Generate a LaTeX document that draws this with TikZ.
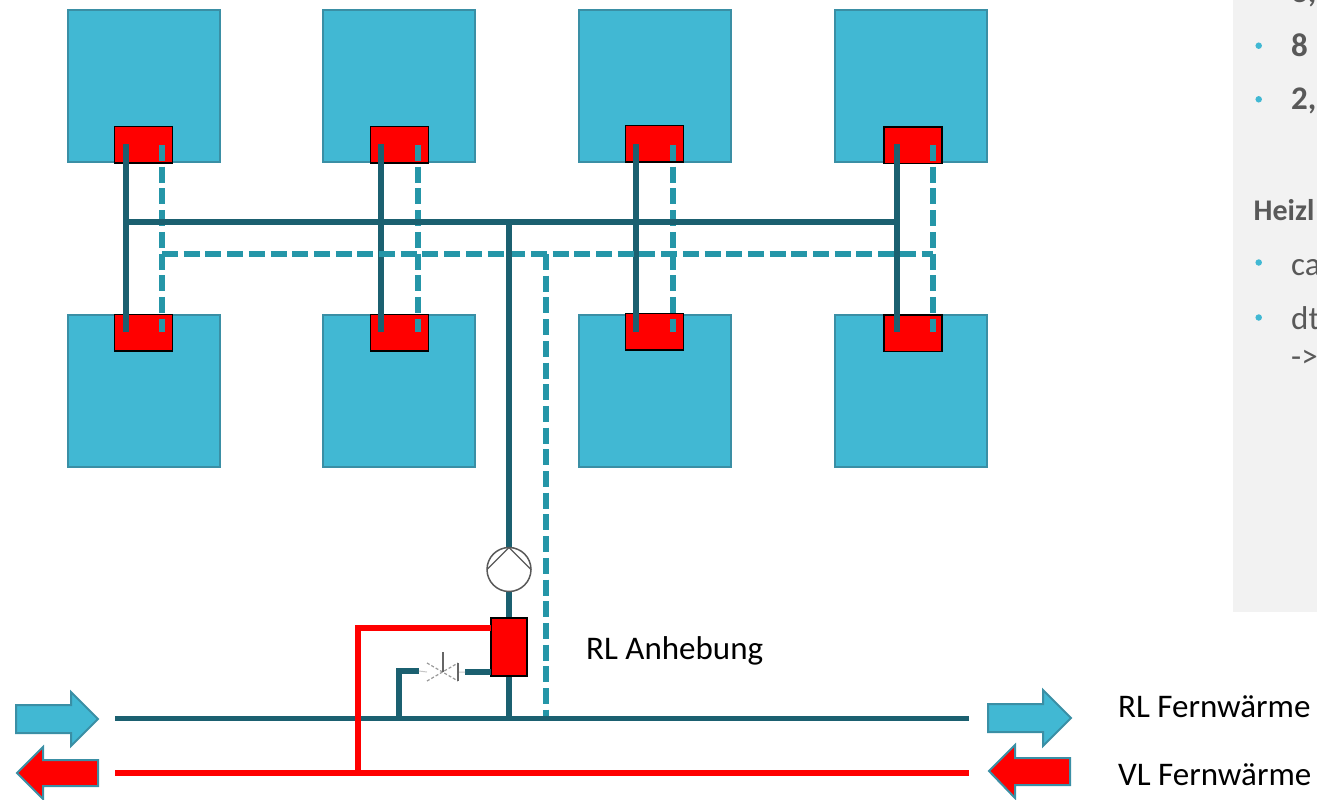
\documentclass[tikz,border=0pt]{standalone}
\usepackage{fontspec}
\setmainfont{Carlito}
\definecolor{roomfill}{HTML}{41B8D3}
\definecolor{roomedge}{HTML}{3A8FA5}
\definecolor{pipedark}{HTML}{1B6070}
\definecolor{pipedash}{HTML}{2596A8}
\definecolor{hot}{HTML}{FF0000}
\definecolor{panel}{HTML}{F2F2F2}
\definecolor{paneltext}{HTML}{595959}
\tikzset{
  room/.style={draw=roomedge,fill=roomfill,line width=2pt,minimum size=152.5pt,inner sep=0pt,outer sep=0pt},
  exch/.style={draw=black,fill=hot,line width=1.5pt,minimum width=58pt,minimum height=36.5pt,inner sep=0pt,outer sep=0pt},
  solidpipe/.style={draw=pipedark,line width=5.5pt,line cap=butt},
  dashpipe/.style={draw=pipedash,line width=5.5pt,dash pattern=on 16pt off 5.7pt},
  hotpipe/.style={draw=hot,line width=5.5pt},
  arrowblue/.style={draw=roomedge,fill=roomfill,line width=2pt,miter limit=4},
  arrowred/.style={draw=roomedge,fill=hot,line width=2pt,miter limit=4},
  label/.style={inner sep=0pt,anchor=base west,font=\fontsize{33}{38}\selectfont,text=black},
  ptext/.style={inner sep=0pt,anchor=base west,font=\fontsize{33}{38}\selectfont,text=paneltext},
  pbold/.style={ptext,font=\fontsize{33}{38}\selectfont\bfseries},
  bullet/.style={circle,fill=roomfill,minimum size=6.5pt,inner sep=0pt},
}
\begin{document}
\begin{tikzpicture}[x=1pt,y=-1pt]
\useasboundingbox (0,0) rectangle (1317,800);
% side panel
\fill[panel] (1233,0) rectangle (1317,612);
\node[pbold] (t3) at (1291,3) {3,};
\node[bullet] (b1) at (1258.7,45.7) {};
\node[pbold] (t8) at (1291,57) {8};
\node[bullet] (b2) at (1258.7,99.3) {};
\node[pbold] (t2) at (1291,110) {2,};
\node[pbold,font=\fontsize{30}{34}\selectfont\bfseries] (theiz) at (1253.5,220) {Heizl};
\node[bullet] (b3) at (1258.7,262.5) {};
\node[ptext] (tca) at (1291,275) {ca};
\node[bullet] (b4) at (1258.7,317.5) {};
\node[ptext] (tdt) at (1291,329) {dt};
\node[ptext] (tar) at (1291,367) {->};
% rooms and exchangers
\foreach \n/\rx/\tx/\ty/\by in {1/144/143.5/144.5/332.5,2/399/399.5/144.5/332.5,3/655/654.5/143.5/331.5,4/911/913/145/333}{
  \node[room] (rt\n) at (\rx,86) {};
  \node[room] (rb\n) at (\rx,391) {};
  \node[exch] (ext\n) at (\tx,\ty) {};
  \node[exch] (exb\n) at (\tx,\by) {};
}
% vertical branch pipes
\foreach \n/\sx/\dx in {1/126/162,2/381/418,3/636/673,4/897/933}{
  \coordinate (st\n) at (\sx,144);
  \coordinate (sb\n) at (\sx,332);
  \coordinate (dt\n) at (\dx,145);
  \coordinate (db\n) at (\dx,332);
  \draw[solidpipe] (st\n) -- (sb\n);
  \draw[dashpipe] (dt\n) -- (db\n);
}
% headers
\coordinate (hsl) at (126,222);
\coordinate (hsr) at (897,222);
\coordinate (hdl) at (162,254);
\coordinate (hdr) at (933,254);
\coordinate (hsm) at (509,222);
\coordinate (hdm) at (546,254);
\draw[solidpipe] (hsl) -- (hsr);
\draw[dashpipe] (hdl) -- (hdr);
% district mains
\coordinate (rl1) at (115,718.5);
\coordinate (rl2) at (969,718.5);
\coordinate (vl1) at (115,773);
\coordinate (vl2) at (969,773);
\coordinate (rlm) at (509,718.5);
\coordinate (rld) at (546,718);
\coordinate (rlb) at (399,718.5);
\coordinate (vlb) at (358,773);
\draw[dashpipe] (hdm) -- (rld);
\draw[solidpipe] (hsm) -- (rlm);
\draw[solidpipe] (rl1) -- (rl2);
\draw[hotpipe] (vl1) -- (vl2);
% pump
\node[circle,draw=gray!70!black,fill=white,line width=1.5pt,minimum size=44pt,inner sep=0pt,outer sep=0pt] (pump) at (509,569.5) {};
\draw[gray!70!black,line width=1.3pt] (pump.west) -- (pump.north) -- (pump.east);
% return-temperature exchanger
\node[draw=black,fill=hot,line width=1.5pt,minimum width=36pt,minimum height=58pt,inner sep=0pt,outer sep=0pt] (rlx) at (509,647) {};
\coordinate (hotc) at (358,628);
\coordinate (hote) at (491,628);
\draw[hotpipe,line join=miter] (hote) -- (hotc) -- (vlb);
% bypass with valve
\coordinate (bc) at (399,671);
\coordinate (va) at (419,671);
\coordinate (vb) at (465,672);
\coordinate (ve) at (491,672);
\draw[solidpipe,line join=miter] (rlb) -- (bc) -- (va);
\draw[solidpipe] (vb) -- (ve);
\coordinate (vc) at (443,672);
\draw[gray!45,line width=1pt] (va) -- (427,672) (458,672) -- (vb);
\draw[gray!80,line width=1.2pt,dash pattern=on 3pt off 2pt] (427,663) -- (458,681) (427,681) -- (458,663);
\draw[gray!80!black,line width=1.4pt] (443,652) -- (vc) (458,663) -- (458,681);
% big arrows
\draw[arrowblue] (16,705) -- (71,705) -- (71,692) -- (98,719) -- (71,746) -- (71,733) -- (16,733) -- cycle;
\draw[arrowred] (98,760) -- (43,760) -- (43,747) -- (17,773) -- (43,799) -- (43,786) -- (98,786) -- cycle;
\draw[arrowblue] (988,704) -- (1043,704) -- (1043,690) -- (1071,718) -- (1043,746) -- (1043,732) -- (988,732) -- cycle;
\draw[arrowred] (1070,758) -- (1015,758) -- (1015,745) -- (989,771) -- (1015,798) -- (1015,785) -- (1070,785) -- cycle;
% labels
\node[label] (lanh) at (586,659) {RL Anhebung};
\node[label] (lrl) at (1118,717) {RL Fernwärme};
\node[label] (lvl) at (1118,785) {VL Fernwärme};
\end{tikzpicture}
\end{document}
